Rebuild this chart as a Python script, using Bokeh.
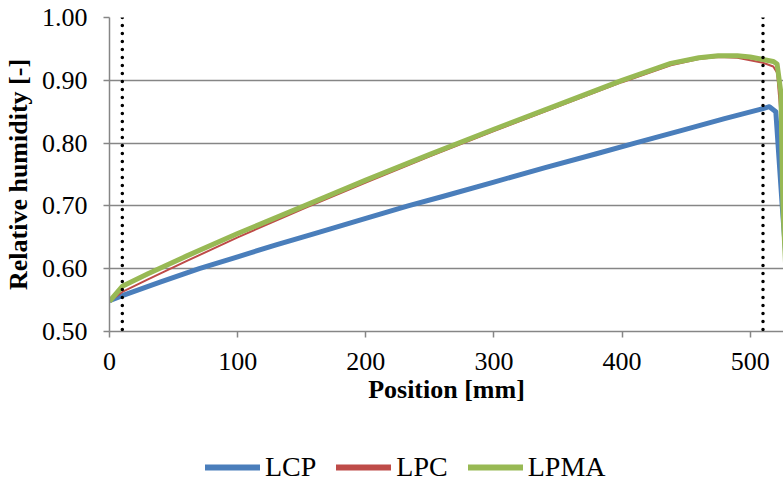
from bokeh.plotting import figure
from bokeh.layouts import column
from bokeh.models import Range1d, Span, FixedTicker, Legend, LegendItem, CustomJSTickFormatter
from bokeh.embed import file_html
from bokeh.resources import INLINE

# ---- data ----
x_lcp = [0, 10, 40, 70, 100, 130, 160, 200, 233, 260, 300, 340, 380, 410, 446, 480, 510, 515, 520, 525, 530]
y_lcp = [0.549, 0.557, 0.579, 0.600, 0.619, 0.638, 0.656, 0.680, 0.700, 0.715, 0.738, 0.761, 0.783,
         0.800, 0.820, 0.839, 0.855, 0.858, 0.850, 0.700, 0.560]

x_lpc = [0, 10, 30, 60, 100, 152, 200, 250, 300, 350, 400, 438, 460, 475, 490, 500, 510, 518, 521, 523.5, 525.3, 530]
y_lpc = [0.548, 0.563, 0.583, 0.612, 0.650, 0.696, 0.737, 0.779, 0.819, 0.858, 0.897, 0.924, 0.934,
         0.937, 0.936, 0.932, 0.928, 0.922, 0.912, 0.850, 0.700, 0.450]

x_lpma = [0, 10, 30, 60, 100, 152, 200, 250, 300, 350, 400, 438, 460, 475, 490, 500, 510, 518, 521, 524, 525.5, 530]
y_lpma = [0.548, 0.572, 0.592, 0.620, 0.656, 0.700, 0.741, 0.782, 0.822, 0.861, 0.900, 0.927, 0.936,
          0.939, 0.939, 0.937, 0.933, 0.930, 0.926, 0.880, 0.700, 0.500]

series_names = ["LCP", "LPC", "LPMA"]
marker_positions = [10, 510]
x_ticks = [0, 100, 200, 300, 400, 500]
y_ticks = [0.5, 0.6, 0.7, 0.8, 0.9, 1.0]

# ---- styling ----
FONT = "Liberation Serif"
GRID = "#868686"
colors = ["#4A7EBB", "#BE4B48", "#98B954"]
widths = [5, 2, 5]
xs_all = [x_lcp, x_lpc, x_lpma]
ys_all = [y_lcp, y_lpc, y_lpma]

p = figure(width=783, height=434, output_backend="svg", toolbar_location=None,
           x_range=Range1d(0, 526), y_range=Range1d(0.5, 1.0),
           min_border_left=108, min_border_right=0, min_border_top=17, min_border_bottom=103)
p.outline_line_color = None
p.background_fill_color = "white"
p.border_fill_color = "white"

p.xgrid.grid_line_color = None
p.ygrid.grid_line_color = GRID
p.ygrid.grid_line_width = 1.5

for ax in (p.xaxis[0], p.yaxis[0]):
    ax.axis_line_color = GRID
    ax.axis_line_width = 1.5
    ax.major_tick_line_color = GRID
    ax.major_tick_line_width = 1.5
    ax.major_tick_out = 6
    ax.major_tick_in = 0
    ax.minor_tick_line_color = None
    ax.major_label_text_font = FONT
    ax.major_label_text_font_size = "26px"
    ax.major_label_text_color = "black"
    ax.axis_label_text_font = FONT
    ax.axis_label_text_font_size = "26px"
    ax.axis_label_text_font_style = "bold"
    ax.axis_label_text_color = "black"

p.xaxis.ticker = FixedTicker(ticks=x_ticks)
p.yaxis.ticker = FixedTicker(ticks=y_ticks)
p.yaxis.formatter = CustomJSTickFormatter(code="return tick.toFixed(2);")
p.xaxis.axis_label = "Position [mm]"
p.yaxis.axis_label = "Relative humidity [-]"
p.xaxis.major_label_standoff = 15
p.yaxis.major_label_standoff = 16
p.xaxis.axis_label_standoff = 2
p.yaxis.axis_label_standoff = 6

for xs, ys, c, w in zip(xs_all, ys_all, colors, widths):
    p.line(xs, ys, line_color=c, line_width=w, line_join="round")

for xm in marker_positions:
    p.add_layout(Span(location=xm, dimension="height", line_color="black",
                      line_width=3.5, line_dash="0 8", line_cap="round"))

# ---- legend strip (separate figure below; series drawn off-view as legend proxies) ----
pl = figure(width=783, height=50, output_backend="svg", toolbar_location=None,
            x_range=Range1d(1000, 1001), y_range=Range1d(0, 1),
            x_axis_location=None, y_axis_location=None,
            min_border_left=0, min_border_right=0, min_border_top=0, min_border_bottom=0)
pl.outline_line_color = None
pl.grid.grid_line_color = None
proxies = [pl.line(xs, ys, line_color=c, line_width=6, line_cap="round")
           for xs, ys, c in zip(xs_all, ys_all, colors)]

legend = Legend(items=[LegendItem(label=n, renderers=[g]) for n, g in zip(series_names, proxies)],
                orientation="horizontal", location=(96, 1),
                label_text_font=FONT, label_text_font_size="28px", label_text_color="black",
                glyph_width=55, glyph_height=20, label_standoff=5, spacing=20,
                padding=4, margin=0, border_line_color=None, background_fill_alpha=0)
pl.add_layout(legend, "center")

open("out.html", "w").write(file_html(column(p, pl, spacing=0), INLINE))
